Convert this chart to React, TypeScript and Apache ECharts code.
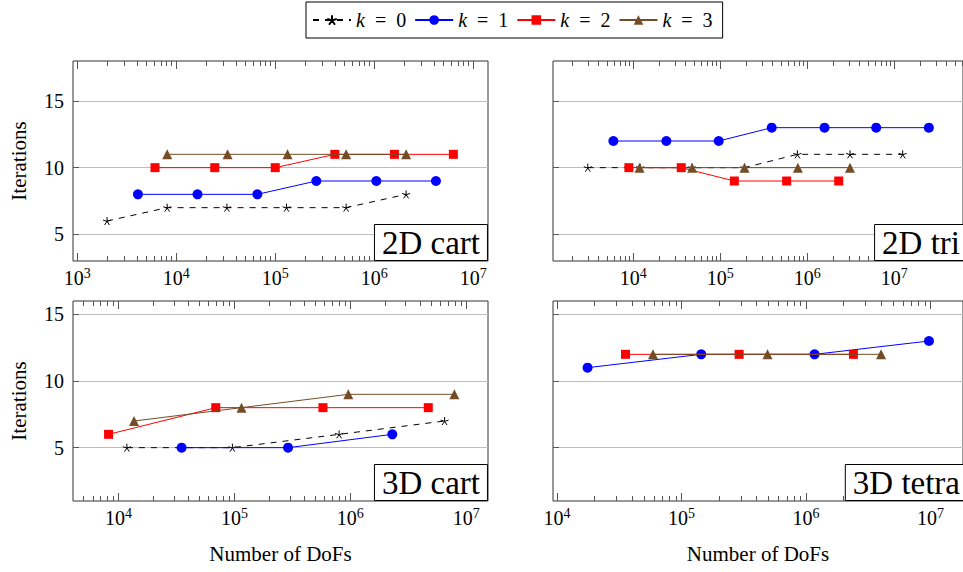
import React, { useEffect, useRef } from 'react';
import * as echarts from 'echarts';

// ---------- data ----------
const SERIES_NAMES = ['k = 0', 'k = 1', 'k = 2', 'k = 3'];
const PANEL_LABELS = ['2D cart', '2D tri', '3D cart', '3D tetra'];

// 2D cart
const cart2dK0X = [2.0e3, 8.1e3, 3.25e4, 1.3e5, 5.2e5, 2.1e6];
const cart2dK0Y = [6, 7, 7, 7, 7, 8];
const cart2dK1X = [4.1e3, 1.64e4, 6.6e4, 2.6e5, 1.05e6, 4.2e6];
const cart2dK1Y = [8, 8, 8, 9, 9, 9];
const cart2dK2X = [6.1e3, 2.45e4, 1.0e5, 4.0e5, 1.6e6, 6.3e6];
const cart2dK2Y = [10, 10, 10, 11, 11, 11];
const cart2dK3X = [8.1e3, 3.3e4, 1.33e5, 5.2e5, 2.1e6];
const cart2dK3Y = [11, 11, 11, 11, 11];

// 2D tri
const tri2dK0X = [3.0e3, 1.2e4, 4.7e4, 1.9e5, 7.7e5, 3.1e6, 1.25e7];
const tri2dK0Y = [10, 10, 10, 10, 11, 11, 11];
const tri2dK1X = [5.9e3, 2.4e4, 9.6e4, 3.9e5, 1.58e6, 6.2e6, 2.5e7];
const tri2dK1Y = [12, 12, 12, 13, 13, 13, 13];
const tri2dK2X = [8.9e3, 3.56e4, 1.45e5, 5.8e5, 2.3e6];
const tri2dK2Y = [10, 10, 9, 9, 9];
const tri2dK3X = [1.18e4, 4.75e4, 1.9e5, 7.8e5, 3.1e6];
const tri2dK3Y = [10, 10, 10, 10, 10];

// 3D cart
const cart3dK0X = [1.18e4, 9.6e4, 8.0e5, 6.5e6];
const cart3dK0Y = [5, 5, 6, 7];
const cart3dK1X = [3.5e4, 2.9e5, 2.3e6];
const cart3dK1Y = [5, 5, 6];
const cart3dK2X = [8.2e3, 6.9e4, 5.8e5, 4.7e6];
const cart3dK2Y = [6, 8, 8, 8];
const cart3dK3X = [1.36e4, 1.15e5, 9.6e5, 7.9e6];
const cart3dK3Y = [7, 8, 9, 9];

// 3D tetra
const tetra3dK1X = [1.76e4, 1.44e5, 1.17e6, 9.7e6];
const tetra3dK1Y = [11, 12, 12, 13];
const tetra3dK2X = [3.55e4, 2.9e5, 2.4e6];
const tetra3dK2Y = [12, 12, 12];
const tetra3dK3X = [5.9e4, 4.9e5, 4.0e6];
const tetra3dK3Y = [12, 12, 12];

// axis limits
const X_LIMITS: [number, number][] = [
  [906, 1.41e7],
  [1194, 6.17e7],
  [4046, 1.54e7],
  [9290, 1.82e7],
];
const Y_LIMITS: [number, number][] = [
  [3, 18],
  [3, 18],
  [1, 16],
  [1, 16],
];
const Y_TICKS = [5, 10, 15];
const X_MAJOR = [1e2, 1e3, 1e4, 1e5, 1e6, 1e7, 1e8];
const X_MINOR: number[] = [];
for (let n = 2; n <= 7; n++) for (let m = 2; m <= 9; m++) X_MINOR.push(m * Math.pow(10, n));

// ---------- styling ----------
const FONT = 'Liberation Serif';
const COLORS = ['#000000', '#0000ff', '#ff0000', '#734d26'];
const STAR = 'path://M0,0L0,-10M0,0L-9.51,-3.09M0,0L-5.88,8.09M0,0L5.88,8.09M0,0L9.51,-3.09';
const SYMBOLS = [STAR, 'circle', 'rect', 'triangle'];
const SYMBOL_SIZES = [8, 10, 9, 10];

const GRIDS = [
  { left: 73, top: 61, width: 415, height: 200 },
  { left: 553, top: 61, width: 415, height: 200 },
  { left: 73, top: 301, width: 415, height: 200 },
  { left: 553, top: 301, width: 415, height: 200 },
];

const PANEL_DATA: ([number[], number[]] | null)[][] = [
  [[cart2dK0X, cart2dK0Y], [cart2dK1X, cart2dK1Y], [cart2dK2X, cart2dK2Y], [cart2dK3X, cart2dK3Y]],
  [[tri2dK0X, tri2dK0Y], [tri2dK1X, tri2dK1Y], [tri2dK2X, tri2dK2Y], [tri2dK3X, tri2dK3Y]],
  [[cart3dK0X, cart3dK0Y], [cart3dK1X, cart3dK1Y], [cart3dK2X, cart3dK2Y], [cart3dK3X, cart3dK3Y]],
  [null, [tetra3dK1X, tetra3dK1Y], [tetra3dK2X, tetra3dK2Y], [tetra3dK3X, tetra3dK3Y]],
];

function buildOption() {
  const tickLine = { color: '#555', width: 1 };
  const xAxis: any[] = [];
  const yAxis: any[] = [];
  const series: any[] = [];
  const title: any[] = [];

  GRIDS.forEach((g, gi) => {
    const [xmin, xmax] = X_LIMITS[gi];
    const base = {
      type: 'log',
      logBase: 10,
      gridIndex: gi,
      min: xmin,
      max: xmax,
      splitLine: { show: false },
      axisLine: { show: false },
      minorTick: { show: false },
      axisPointer: { show: false },
    };
    const bottomRow = gi >= 2;
    xAxis.push({
      ...base,
      position: 'bottom',
      axisTick: { inside: true, length: 8, customValues: X_MAJOR, lineStyle: tickLine },
      axisLabel: {
        customValues: X_MAJOR,
        margin: 5,
        fontFamily: FONT,
        fontSize: 20,
        color: '#000',
        formatter: (v: number) => `{b|10}{s|${Math.round(Math.log10(v))}}`,
        rich: {
          b: { fontSize: 20, fontFamily: FONT, color: '#000' },
          s: { fontSize: 14, fontFamily: FONT, color: '#000', padding: [0, 0, 9, 0] },
        },
      },
      name: bottomRow ? 'Number of DoFs' : '',
      nameLocation: 'middle',
      nameGap: 42,
      nameTextStyle: { fontSize: 21, fontFamily: FONT, color: '#000' },
    });
    xAxis.push({
      ...base,
      position: 'bottom',
      axisTick: { inside: true, length: 5, customValues: X_MINOR, lineStyle: tickLine },
      axisLabel: { show: false },
    });
    xAxis.push({
      ...base,
      position: 'top',
      axisTick: { inside: true, length: 8, customValues: X_MAJOR, lineStyle: tickLine },
      axisLabel: { show: false },
    });
    xAxis.push({
      ...base,
      position: 'top',
      axisTick: { inside: true, length: 5, customValues: X_MINOR, lineStyle: tickLine },
      axisLabel: { show: false },
    });

    const [ymin, ymax] = Y_LIMITS[gi];
    const leftCol = gi % 2 === 0;
    yAxis.push({
      type: 'value',
      gridIndex: gi,
      min: ymin,
      max: ymax,
      splitNumber: 3,
      axisLine: { show: false },
      axisTick: { show: true, inside: true, length: 6, customValues: Y_TICKS, lineStyle: tickLine },
      axisLabel: {
        show: leftCol,
        customValues: Y_TICKS,
        fontSize: 20,
        fontFamily: FONT,
        color: '#000',
        margin: 9,
      },
      splitLine: { show: true, lineStyle: { color: '#bdbdbd', width: 1 } },
      name: leftCol ? 'Iterations' : '',
      nameLocation: 'middle',
      nameGap: 44,
      nameRotate: 90,
      nameTextStyle: { fontSize: 21, fontFamily: FONT, color: '#000' },
    });

    PANEL_DATA[gi].forEach((d, k) => {
      if (!d) return;
      const [xs, ys] = d;
      series.push({
        type: 'line',
        name: SERIES_NAMES[k],
        xAxisIndex: gi * 4,
        yAxisIndex: gi,
        data: xs.map((x, i) => [x, ys[i]]),
        symbol: SYMBOLS[k],
        symbolSize: SYMBOL_SIZES[k],
        showSymbol: true,
        lineStyle: { color: COLORS[k], width: 1, type: k === 0 ? [6, 6] : 'solid' },
        itemStyle:
          k === 0
            ? { color: '#000', borderColor: '#000', borderWidth: 1 }
            : { color: COLORS[k], borderWidth: 0 },
        emphasis: { disabled: true },
        z: 3 + k,
      });
    });

    const right = 963 - (g.left + g.width);
    const bottom = 572 - (g.top + g.height);
    title.push({
      text: PANEL_LABELS[gi],
      right,
      bottom,
      padding: [1, 8, 0, 8],
      borderColor: '#000',
      borderWidth: 1,
      backgroundColor: '#fff',
      z: 20,
      textStyle: { fontSize: 33, fontWeight: 'normal', fontFamily: FONT, color: '#000', lineHeight: 36 },
    });
  });

  return {
    animation: false,
    backgroundColor: '#fff',
    title,
    legend: {
      data: SERIES_NAMES,
      left: 306,
      top: 2,
      padding: [6, 10, 6, 6],
      itemGap: 8,
      itemWidth: 38,
      itemHeight: 12,
      selectedMode: false,
      borderColor: '#000',
      borderWidth: 1,
      formatter: (name: string) => `{i|k}\u2002=\u2002${name.slice(4)}`,
      textStyle: {
        fontSize: 20,
        fontFamily: FONT,
        color: '#000',
        lineHeight: 24,
        rich: { i: { fontSize: 20, fontStyle: 'italic', fontFamily: FONT, color: '#000', lineHeight: 24 } },
      },
    },
    grid: GRIDS.map((g) => ({
      ...g,
      show: true,
      borderColor: '#333',
      borderWidth: 1,
      backgroundColor: 'transparent',
      containLabel: false,
    })),
    xAxis,
    yAxis,
    series,
  };
}

export default function App() {
  const ref = useRef<HTMLDivElement>(null);
  useEffect(() => {
    if (!ref.current) return;
    const chart = echarts.init(ref.current, undefined, { renderer: 'svg' });
    chart.setOption(buildOption() as any);
    return () => chart.dispose();
  }, []);
  return (
    <div
      ref={ref}
      style={{ position: 'absolute', left: 0, top: 0, width: 963, height: 572, background: '#fff' }}
    />
  );
}
